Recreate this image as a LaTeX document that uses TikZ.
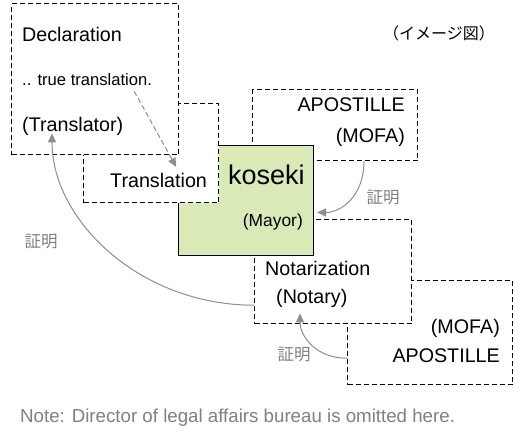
\documentclass[tikz,border=0pt]{standalone}
\usepackage{fontspec}
\setmainfont{Liberation Sans}
\newfontfamily\jpfont{Noto Sans CJK JP}
\usepackage{xcolor}
\usetikzlibrary{arrows.meta, calc, positioning}
\definecolor{kosekigreen}{HTML}{D9EAB6}
\definecolor{notegray}{HTML}{808080}
\definecolor{arrowgray}{HTML}{8E8E8E}
\tikzset{
docbox/.style={
  draw, rectangle, fill=white, anchor=north west,
  line width=1.2pt, dash pattern=on 5pt off 3pt,
  inner sep=0pt
},
mainbox/.style={
  draw, rectangle, fill=kosekigreen, anchor=north west,
  line width=1pt, inner sep=0pt
},
bigtext/.style={font=\fontsize{19.7}{23}\selectfont, inner sep=0pt},
smalltext/.style={font=\fontsize{16.6}{20}\selectfont, inner sep=0pt},
prooftext/.style={font=\jpfont\fontsize{16.5}{18}\selectfont, text=notegray, inner sep=0pt},
flow/.style={draw=arrowgray, line width=1pt, -{Triangle[length=9pt,width=8pt]}},
flowdash/.style={flow, dash pattern=on 5pt off 3pt},
}

\begin{document}
\begin{tikzpicture}[x=1pt, y=-1pt]
    \useasboundingbox (0,0) rectangle (514,435);
    % boxes, back to front
    \node (apoBot) [docbox, minimum width=165pt, minimum height=104pt] at (347,280) {};
    \node (notar) [docbox, minimum width=157pt, minimum height=104pt] at (254,219) {};
    \node (apoTop) [docbox, minimum width=165pt, minimum height=71pt] at (252,89) {};
    \node (koseki) [mainbox, minimum width=135pt, minimum height=110pt] at (178,145) {};
    \node (transl) [docbox, minimum width=135pt, minimum height=99pt] at (83,103) {};
    \node (decl) [docbox, minimum width=167pt, minimum height=151pt] at (11,3) {};

    % texts
    \node (declTitle) [bigtext, anchor=west] at (22,34) {Declaration};
    \node (trueTr) [smalltext, anchor=west] at (22,80) {.. true translation.};
    \node (translator) [bigtext, anchor=west] at (22,126) {(Translator)};
    \node (translTitle) [bigtext, anchor=west] at (110,180) {Translation};
    \node (kosekiTitle) [font=\fontsize{27}{30}\selectfont, inner sep=0pt, anchor=west] at (228,175) {koseki};
    \node (mayor) [font=\fontsize{17.4}{20}\selectfont, inner sep=0pt, anchor=east] at (303,222) {(Mayor)};
    \node (apoTopTitle) [bigtext, anchor=east] at (405,105) {APOSTILLE};
    \node (mofaTop) [bigtext, anchor=east] at (405,137) {(MOFA)};
    \node (notarTitle) [bigtext, anchor=west] at (265,268) {Notarization};
    \node (notary) [bigtext, anchor=west] at (276,298) {(Notary)};
    \node (mofaBot) [bigtext, anchor=east] at (500,328) {(MOFA)};
    \node (apoBotTitle) [bigtext, anchor=east] at (500,356) {APOSTILLE};

    \node (image) [font=\jpfont\fontsize{16}{18}\selectfont, inner sep=0pt] at (439,33) {（イメージ図）};
    \node (proofA) [prooftext] at (383,198) {証明};
    \node (proofB) [prooftext] at (41,242) {証明};
    \node (proofC) [prooftext] at (294,355) {証明};
    \node (note) [font=\fontsize{18.7}{22}\selectfont, text=notegray, inner sep=0pt, anchor=west] at (20,418)
        {Note: Director of legal affairs bureau is omitted here.};

    % arrows
    \draw[flowdash] ([xshift=-18pt, yshift=-5pt]trueTr.south east) -- ([xshift=-43pt, yshift=-64pt]transl.north east);
    \draw[flow] ([xshift=112pt]apoTop.south west) .. controls +(0,35) and +(24,0) .. ([xshift=3pt, yshift=-12pt]koseki.east);
    \draw[flow] ([yshift=19pt]notar.south west) .. controls +(-114,0) and +(0,87) .. ([xshift=30pt, yshift=2pt]translator.south west);
    \draw[flow] ([yshift=27pt]apoBot.south west) .. controls +(-32,0) and +(0,22) .. ([xshift=24pt, yshift=-6pt]notary.south west);
\end{tikzpicture}
\end{document}
